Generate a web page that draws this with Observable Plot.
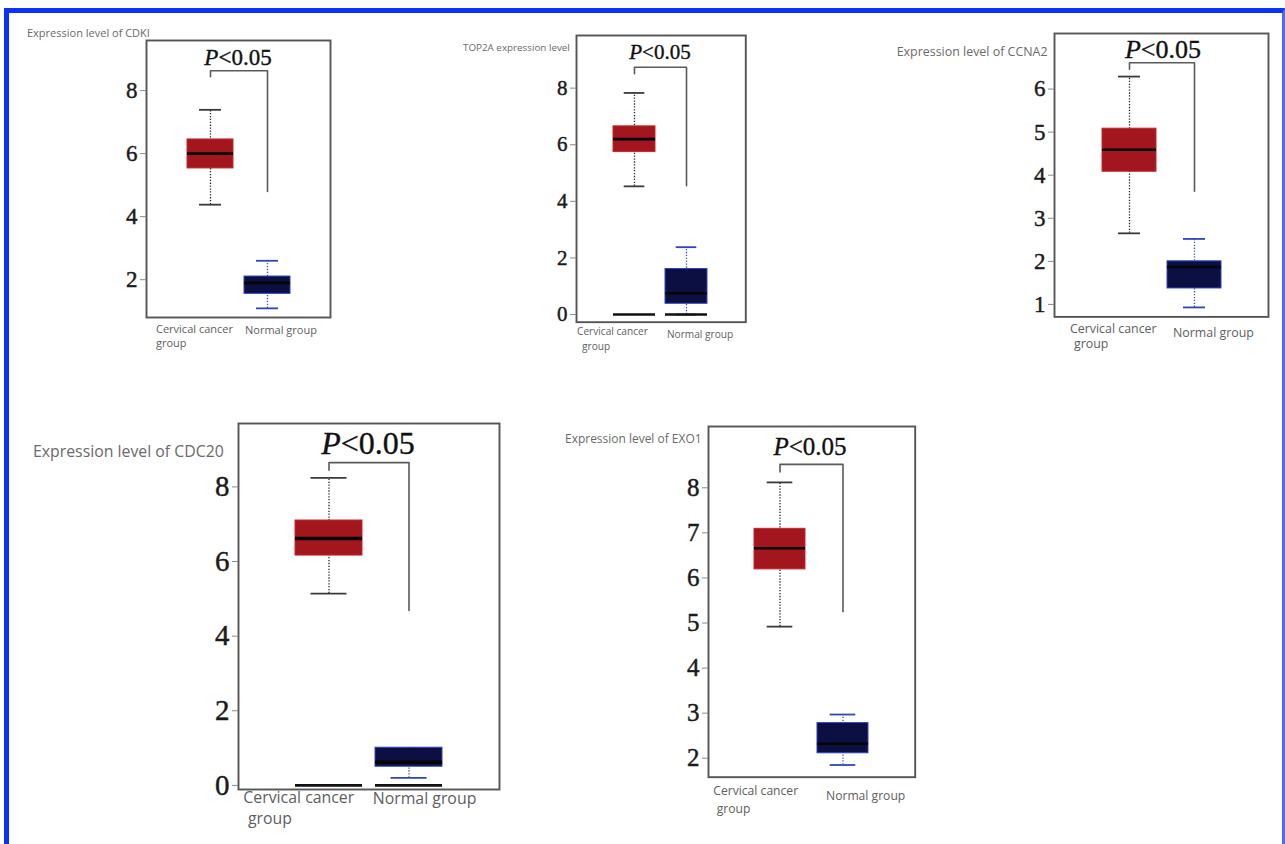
<!DOCTYPE html>
<html><head><meta charset="utf-8">
<script src="https://cdn.jsdelivr.net/npm/d3@7"></script>
<script src="https://cdn.jsdelivr.net/npm/@observablehq/plot@0.6"></script>
<style>
body{margin:0;background:#fff;width:1285px;height:844px;overflow:hidden;position:relative;}
#border{position:absolute;left:4px;top:8px;width:1273px;height:900px;border-left:5px solid #0a33f7;border-top:5px solid #0a33f7;border-right:3px solid #4a6cff;}
.t{position:absolute;white-space:nowrap;line-height:1;}
.panel{position:absolute;}
.panel svg{overflow:visible;}
.panel g[aria-label="y-axis tick label"] text{stroke:#1a1a1a;stroke-width:0.45px;paint-order:stroke;}
.pl{-webkit-text-stroke:0.35px #111;}
</style></head><body>
<div id="border"></div>
<script>
// ---- data ----
const groups = ["Cervical cancer group", "Normal group"];
const genes = ["CDK1", "TOP2A", "CCNA2", "CDC20", "EXO1"];
const yTitles = ["Expression level of CDKI", "TOP2A expression level", "Expression level of CCNA2", "Expression level of CDC20", "Expression level of EXO1"];
const xLabelLines = [["Cervical cancer", "group"], ["Normal group"]];
// per gene: [cancer, normal]
const whiskerLow  = [[4.38, 1.09], [4.53, 0.00], [2.65, 0.93], [5.14, 0.20], [4.92, 1.85]];
const q1          = [[5.53, 1.55], [5.74, 0.38], [4.08, 1.37], [6.16, 0.50], [6.19, 2.11]];
const median      = [[6.00, 1.90], [6.20, 0.75], [4.59, 1.87], [6.62, 0.62], [6.66, 2.32]];
const q3          = [[6.45, 2.10], [6.65, 1.61], [5.08, 2.00], [7.10, 1.01], [7.09, 2.78]];
const whiskerHigh = [[7.39, 2.60], [7.83, 2.38], [6.29, 2.52], [8.24, 1.01], [8.12, 2.97]];
const zeroLine    = [false, true, false, true, false];
const yTicks = [[2, 4, 6, 8], [0, 2, 4, 6, 8], [1, 2, 3, 4, 5, 6], [0, 2, 4, 6, 8], [2, 3, 4, 5, 6, 7, 8]];
const bracketLeftEnd  = [8.44, 8.51, 6.46, 8.45, 8.35];
const bracketTop      = [8.63, 8.74, 6.61, 8.65, 8.52];
const bracketRightEnd = [4.80, 4.55, 3.63, 4.69, 5.25];
const pText = "P<0.05";

// ---- layout (positions / sizes / styles) ----
const layout = [
  {fx:146,   fy:40,    fw:184,   fh:277,   yd:[0.8, 9.59],  pI:0.193, pO:0.71,  cap:12,   tickFs:23, pFs:23, pX:238,  pY:58,
   title:{x:27,  y:33.7, w:123}, xl:{cx:156,  cy:330,   gx:156,   gy:343.3, nx:245,   ny:330,   w:77}},
  {fx:575.7, fy:35,    fw:169.3, fh:286.7, yd:[-0.27, 9.86],pI:0.184, pO:0.698, cap:10.7, tickFs:21, pFs:21, pX:660,  pY:52.3,
   title:{x:463, y:48.3, w:107}, xl:{cx:577,  cy:332.3, gx:582,   gy:346.7, nx:667,   ny:335,   w:71}},
  {fx:1054.3,fy:33.3,  fw:214,   fh:283.4, yd:[0.71, 7.29], pI:0.172, pO:0.727, cap:16,   tickFs:23, pFs:26, pX:1163, pY:50,
   title:{x:896.7,y:53.3,w:151}, xl:{cx:1070, cy:329.3, gx:1074,  gy:344.8, nx:1173,  ny:334,   w:86.7}},
  {fx:238.3, fy:423.3, fw:261,   fh:366,   yd:[-0.11, 9.70],pI:0.1625,pO:0.7125,cap:15.5, tickFs:29, pFs:32, pX:368,  pY:443,
   title:{x:33,  y:452.7,w:191}, xl:{cx:243.3,cy:799,   gx:248,   gy:819.5, nx:372.7, ny:800,   w:111}},
  {fx:708.3, fy:426,   fw:206.7, fh:350.7, yd:[1.58, 9.36], pI:0.185, pO:0.712, cap:12.7, tickFs:25, pFs:25, pX:810,  pY:447,
   title:{x:565, y:440,  w:136.7},xl:{cx:713.3,cy:791.7, gx:716.7, gy:810,   nx:826,   ny:796.7, w:85}}
];

const fills   = ["#a3161d", "#0b0f42"];
const strokes = ["#c4282d", "#3045c2"];
const whiskC  = ["#222222", "#3a4fc8"];
const capC    = ["#3a3a3a", "#3045b8"];
const sans = "'Open Sans', 'Noto Sans', sans-serif";
const serif = "'Liberation Serif', 'DejaVu Serif', serif";

const ctx = document.createElement("canvas").getContext("2d");
function fitSize(text, family, target) {
  ctx.font = `100px ${family}`;
  return 100 * target / ctx.measureText(text).width;
}
function addText(html, x, y, fs, family, color, anchor, ratio, lh, cls) {
  const d = document.createElement("div");
  d.className = "t" + (cls ? " " + cls : "");
  d.innerHTML = html;
  d.style.fontFamily = family;
  d.style.fontSize = fs + "px";
  d.style.color = color;
  const L = lh || fs;
  d.style.lineHeight = L + "px";
  d.style.top = (y - (L - fs) / 2 - fs * ratio) + "px";
  d.style.left = x + "px";
  if (anchor === "middle") d.style.transform = "translateX(-50%)";
  document.body.appendChild(d);
}

const ML = 52;
genes.forEach((gene, i) => {
  const L = layout[i];
  const rows = groups.map((g, j) => ({
    group: g, j,
    lo: whiskerLow[i][j], q1: q1[i][j], med: median[i][j], q3: q3[i][j], hi: whiskerHigh[i][j]
  }));
  const bracket = [
    {group: groups[0], v: bracketLeftEnd[i]},
    {group: groups[0], v: bracketTop[i]},
    {group: groups[1], v: bracketTop[i]},
    {group: groups[1], v: bracketRightEnd[i]}
  ];
  const marks = [
    Plot.frame({stroke: "#555555", strokeWidth: 1.9}),
    Plot.axisY({ticks: yTicks[i], tickSize: 6, text: null, stroke: "#8a8a8a", strokeWidth: 1}),
    Plot.axisY({ticks: yTicks[i], tickSize: 0, tickPadding: 9, fontSize: L.tickFs, fontFamily: serif, fill: "#1a1a1a", tickFormat: d3.format("d")}),
    Plot.ruleX(rows, {x: "group", y1: "lo", y2: "hi", stroke: d => whiskC[d.j], strokeWidth: 1.3, strokeDasharray: "1.3 1.6"}),
    Plot.tickY(rows, {x: "group", y: "lo", stroke: d => capC[d.j], strokeWidth: 1.8, inset: L.cap}),
    Plot.tickY(rows.filter(d => d.hi > d.q3), {x: "group", y: "hi", stroke: d => capC[d.j], strokeWidth: 1.8, inset: L.cap}),
    Plot.barY(rows, {x: "group", y1: "q1", y2: "q3", fill: d => fills[d.j], stroke: d => strokes[d.j], strokeWidth: 1}),
    Plot.tickY(rows, {x: "group", y: "med", stroke: "#050505", strokeWidth: i === 3 ? 3.5 : 2.6}),
    Plot.line(bracket, {x: "group", y: "v", stroke: "#5a5a5a", strokeWidth: 1.6})
  ];
  if (zeroLine[i]) {
    marks.push(Plot.tickY(rows, {x: "group", y: () => 0, stroke: "#111", strokeWidth: 2.6}));
  }
  const chart = Plot.plot({
    width: ML + L.fw + 2,
    height: L.fh + 2,
    marginLeft: ML, marginRight: 2, marginTop: 1, marginBottom: 1,
    style: {background: "transparent", overflow: "visible"},
    x: {type: "band", domain: groups, paddingInner: L.pI, paddingOuter: L.pO, axis: null},
    y: {domain: L.yd, axis: null},
    marks
  });
  const wrap = document.createElement("div");
  wrap.className = "panel";
  wrap.style.left = (L.fx - ML) + "px";
  wrap.style.top = (L.fy - 1) + "px";
  wrap.appendChild(chart);
  document.body.appendChild(wrap);

  // y title
  const tfs = fitSize(yTitles[i], sans, L.title.w);
  addText(yTitles[i], L.title.x, L.title.y, tfs, sans, "#6a6a6a", "start", 0.58);
  // x labels
  const xfs = fitSize(xLabelLines[0][0], sans, L.xl.w);
  const lh = L.xl.gy - L.xl.cy;
  const twoLine = xLabelLines[0][0] + "<br><span style=\"margin-left:" + (L.xl.gx - L.xl.cx) + "px\">" + xLabelLines[0][1] + "</span>";
  addText(twoLine, L.xl.cx, L.xl.cy, xfs, sans, "#5e5e5e", "start", 0.58, lh);
  addText(xLabelLines[1][0], L.xl.nx, L.xl.ny, xfs, sans, "#5e5e5e", "start", 0.58);
  // P label
  const pHtml = "<i>" + pText[0] + "</i>" + pText.slice(1).replace("<", "&lt;");
  addText(pHtml, L.pX, L.pY, L.pFs, serif, "#111", "middle", 0.51, null, "pl");
});
</script></body></html>
